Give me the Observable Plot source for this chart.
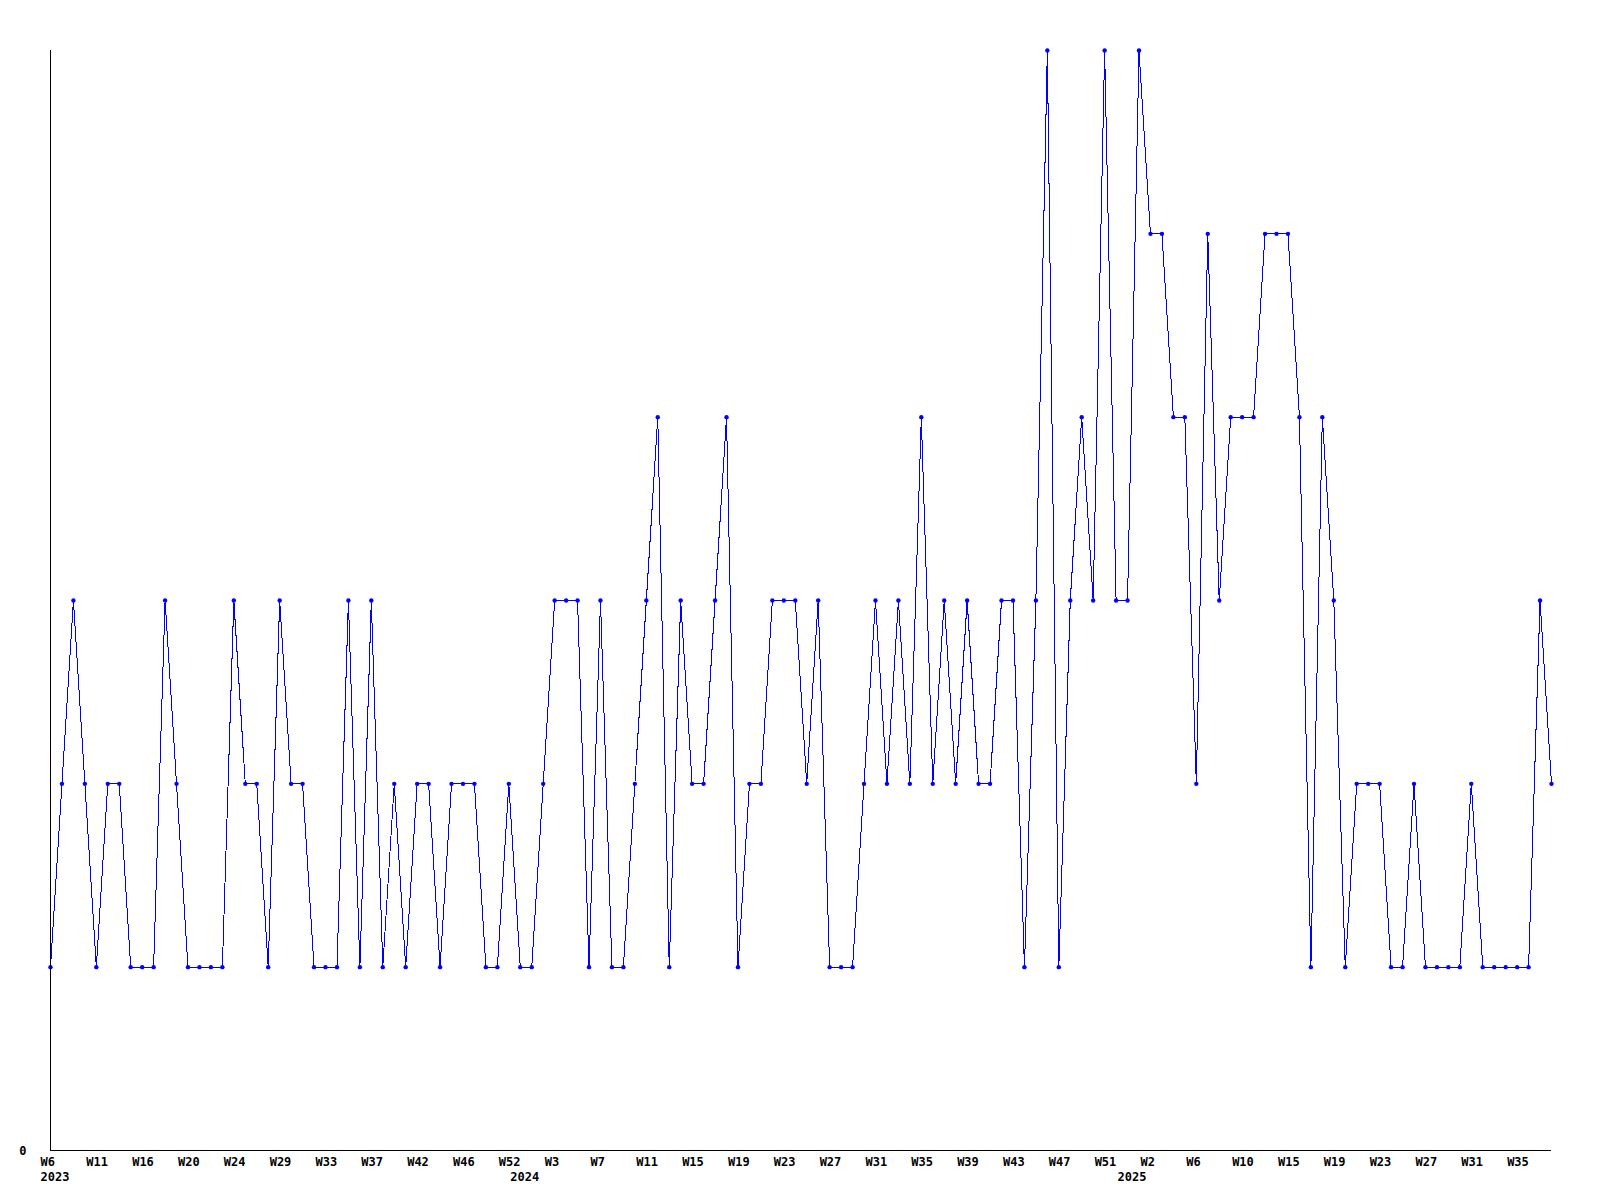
<!DOCTYPE html>
<html>
<head>
<meta charset="utf-8">
<script src="https://cdn.jsdelivr.net/npm/d3@7"></script>
<script src="https://cdn.jsdelivr.net/npm/@observablehq/plot@0.6"></script>
<style>
  html, body { margin: 0; padding: 0; background: #ffffff; }
  svg { display: block; }
</style>
</head>
<body>
<div id="chart"></div>
<script>
// Weekly counts, one per data point (weeks with no count are absent from the series)
const values = [
  1,2,3,2,1,2,2,1,1,1,
  3,2,1,1,1,1,3,2,2,1,
  3,2,2,1,1,1,3,1,3,1,
  2,1,2,2,1,2,2,2,1,1,
  2,1,1,2,3,3,3,1,3,1,
  1,2,3,4,1,3,2,2,3,4,
  1,2,2,3,3,3,2,3,1,1,
  1,2,3,2,3,2,4,2,3,2,
  3,2,2,3,3,1,3,6,1,3,
  4,3,6,3,3,6,5,5,4,4,
  2,5,3,4,4,4,5,5,5,4,
  1,4,3,1,2,2,2,1,1,2,
  1,1,1,1,2,1,1,1,1,1,
  3,2
];

// Week labels shown under every 4th point
const tickEvery = 4;
const tickLabels = [
  "W6","W11","W16","W20","W24","W29","W33","W37","W42","W46","W52",
  "W3","W7","W11","W15","W19","W23","W27","W31","W35","W39","W43","W47","W51",
  "W2","W6","W10","W15","W19","W23","W27","W31","W35"
];

// Year labels and the point index where each year begins
const yearLabels = ["2023", "2024", "2025"];
const yearStarts = [0, 41, 94];

// Y-axis tick labels
const yTicks = [0];
const yMax = 6;

const points = values.map((v, i) => ({ i, v }));
const tickIdx = tickLabels.map((_, k) => k * tickEvery);

const font = "'DejaVu Sans Mono', 'Liberation Mono', monospace";

const chart = Plot.plot({
  width: 1600,
  height: 1200,
  marginTop: 50,
  marginBottom: 50,
  marginLeft: 50,
  marginRight: 49,
  x: { type: "linear", domain: [0, values.length - 1], axis: null },
  y: { domain: [0, yMax], axis: null },
  style: { fontFamily: font, fontWeight: "bold", fontSize: "12px", background: "#ffffff", color: "#000000" },
  marks: [
    Plot.line(points, { x: "i", y: "v", stroke: "#0000ff", strokeWidth: 1, shapeRendering: "crispEdges" }),
    Plot.dot(points, { x: "i", y: "v", r: 2.2, fill: "#0000ff", stroke: "none" }),
    Plot.ruleY([0], { stroke: "#000000", strokeWidth: 1, shapeRendering: "crispEdges" }),
    Plot.ruleX([0], { stroke: "#000000", strokeWidth: 1, shapeRendering: "crispEdges" }),
    Plot.text(tickIdx, {
      x: (d) => d, y: () => 0, text: (d, k) => tickLabels[k],
      dx: -10, dy: 11.5, textAnchor: "start", lineAnchor: "middle",
      fill: "#000000", fontWeight: "bold", fontSize: 12
    }),
    Plot.text(yearStarts, {
      x: (d) => d, y: () => 0, text: (d, k) => yearLabels[k],
      dx: -10, dy: 26.5, textAnchor: "start", lineAnchor: "middle",
      fill: "#000000", fontWeight: "bold", fontSize: 12
    }),
    Plot.text(yTicks, {
      x: () => 0, y: (d) => d, text: (d) => String(d),
      dx: -24, dy: 1, textAnchor: "end", lineAnchor: "middle",
      fill: "#000000", fontWeight: "bold", fontSize: 12
    })
  ]
});

document.getElementById("chart").appendChild(chart);
</script>
</body>
</html>
